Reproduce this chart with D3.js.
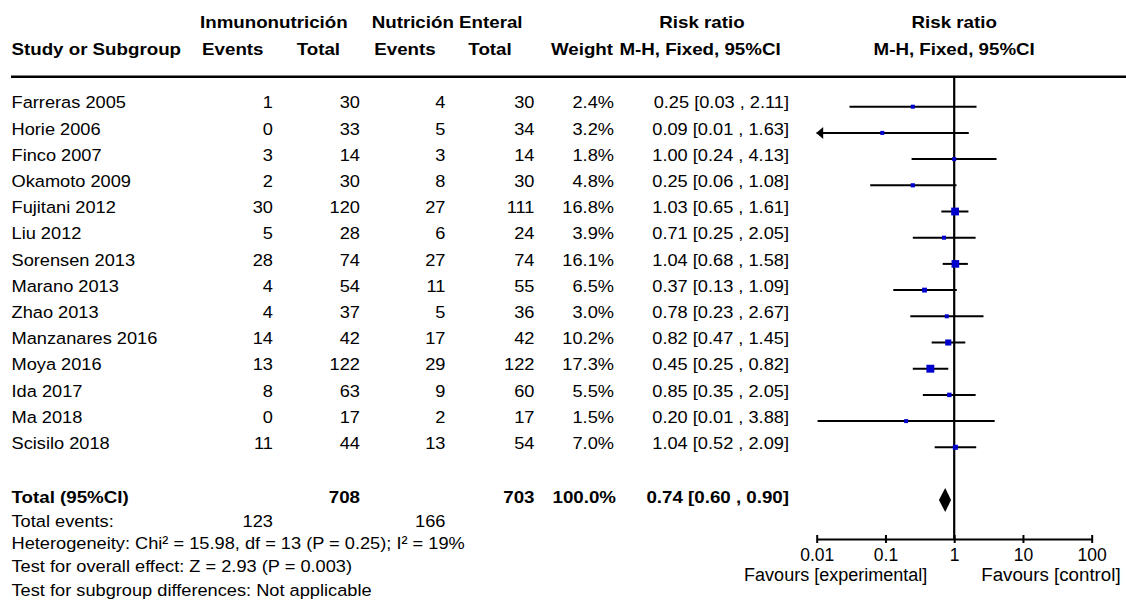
<!DOCTYPE html>
<html>
<head>
<meta charset="utf-8">
<script src="https://cdn.jsdelivr.net/npm/d3@7"></script>
<style>
  html, body { margin: 0; padding: 0; background: #ffffff; }
  svg { display: block; }
  text { font-family: "Liberation Sans", Arial, sans-serif; fill: #000; }
</style>
</head>
<body>
<svg id="chart" width="1126" height="610"></svg>
<script>
// ---------- DATA ----------
const studies = ["Farreras 2005","Horie 2006","Finco 2007","Okamoto 2009","Fujitani 2012","Liu 2012",
  "Sorensen 2013","Marano 2013","Zhao 2013","Manzanares 2016","Moya 2016","Ida 2017","Ma 2018","Scisilo 2018"];
const immEvents = [1,0,3,2,30,5,28,4,4,14,13,8,0,11];
const immTotal  = [30,33,14,30,120,28,74,54,37,42,122,63,17,44];
const enEvents  = [4,5,3,8,27,6,27,11,5,17,29,9,2,13];
const enTotal   = [30,34,14,30,111,24,74,55,36,42,122,60,17,54];
const weights   = [2.4,3.2,1.8,4.8,16.8,3.9,16.1,6.5,3.0,10.2,17.3,5.5,1.5,7.0];
const rr        = [0.25,0.09,1.00,0.25,1.03,0.71,1.04,0.37,0.78,0.82,0.45,0.85,0.20,1.04];
const ciLow     = [0.03,0.0054,0.24,0.06,0.65,0.25,0.68,0.13,0.23,0.47,0.25,0.35,0.0103,0.52];
const ciHigh    = [2.11,1.63,4.13,1.08,1.61,2.05,1.58,1.09,2.67,1.45,0.82,2.05,3.88,2.09];

const totalImm = 708, totalEn = 703, totalWeight = "100.0%";
const pooled = {rr: 0.74, lo: 0.60, hi: 0.90};
const totalEventsImm = 123, totalEventsEn = 166;
const footerLines = [
  "Heterogeneity: Chi\u00b2 = 15.98, df = 13 (P = 0.25); I\u00b2 = 19%",
  "Test for overall effect: Z = 2.93 (P = 0.003)",
  "Test for subgroup differences: Not applicable"
];
const tickValues = [0.01, 0.1, 1, 10, 100];
const tickLabels = ["0.01", "0.1", "1", "10", "100"];
const favoursLeft = "Favours [experimental]", favoursRight = "Favours [control]";

// ---------- LAYOUT ----------
const svg = d3.select("#chart");
const FS = 16.8, SX = 1.085, SXB = 1.115;
const firstRow = 106.7, rowStep = 26.2;
const rowY = i => firstRow + i * rowStep;

function txt(x, y, s, opts = {}) {
  return svg.append("text")
    .attr("transform", `translate(${x},${y}) scale(${opts.bold ? SXB : SX},1)`)
    .attr("text-anchor", opts.anchor || "start")
    .attr("font-size", FS)
    .attr("font-weight", opts.bold ? "bold" : "normal")
    .text(s);
}

const col = { study: 11.5, immEv: 273, immTot: 360, enEv: 445.5, enTot: 534.5, weight: 614, ci: 789 };

// Headers
const h1 = 28.3, h2 = 55;
txt(200, h1, "Inmunonutrición", {bold: true});
txt(371.7, h1, "Nutrición Enteral", {bold: true});
txt(702, h1, "Risk ratio", {bold: true, anchor: "middle"});
txt(col.study, h2, "Study or Subgroup", {bold: true});
txt(263.5, h2, "Events", {bold: true, anchor: "end"});
txt(340, h2, "Total", {bold: true, anchor: "end"});
txt(435.7, h2, "Events", {bold: true, anchor: "end"});
txt(511.7, h2, "Total", {bold: true, anchor: "end"});
txt(613, h2, "Weight", {bold: true, anchor: "end"});
txt(700, h2, "M-H, Fixed, 95%CI", {bold: true, anchor: "middle"});

// Plot scale
const x = d3.scaleLog().domain([0.01, 100]).range([816.7, 1091.7]);
const x1 = x(1);
txt(x1, h1, "Risk ratio", {bold: true, anchor: "middle"});
txt(x1, h2, "M-H, Fixed, 95%CI", {bold: true, anchor: "middle"});

// header rule
svg.append("line").attr("x1", 11).attr("x2", 1126).attr("y1", 76.7).attr("y2", 76.7)
  .attr("stroke", "#000").attr("stroke-width", 2.5);

// Study rows text
studies.forEach((s, i) => {
  const b = rowY(i) + 1.6;
  txt(col.study, b, s);
  txt(col.immEv, b, immEvents[i], {anchor: "end"});
  txt(col.immTot, b, immTotal[i], {anchor: "end"});
  txt(col.enEv, b, enEvents[i], {anchor: "end"});
  txt(col.enTot, b, enTotal[i], {anchor: "end"});
  txt(col.weight, b, weights[i].toFixed(1) + "%", {anchor: "end"});
  txt(col.ci, b, `${rr[i].toFixed(2)} [${ciLow[i].toFixed(2)} , ${ciHigh[i].toFixed(2)}]`, {anchor: "end"});
});

// Total row
const totB = 502.5;
txt(col.study, totB, "Total (95%CI)", {bold: true});
txt(col.immTot, totB, totalImm, {bold: true, anchor: "end"});
txt(col.enTot, totB, totalEn, {bold: true, anchor: "end"});
txt(col.weight + 2, totB, totalWeight, {bold: true, anchor: "end"});
txt(col.ci, totB, `${pooled.rr.toFixed(2)} [${pooled.lo.toFixed(2)} , ${pooled.hi.toFixed(2)}]`, {bold: true, anchor: "end"});

const evB = 526.7;
txt(col.study, evB, "Total events:");
txt(col.immEv, evB, totalEventsImm, {anchor: "end"});
txt(col.enEv, evB, totalEventsEn, {anchor: "end"});
footerLines.forEach((s, k) => txt(col.study, 549.2 + k * 23.2, s));

// ---------- PLOT ----------
const axisY = 539;
svg.append("line").attr("x1", x1).attr("x2", x1).attr("y1", 77.5).attr("y2", axisY)
  .attr("stroke", "#000").attr("stroke-width", 2.2);

const g = svg.append("g");
studies.forEach((s, i) => {
  const y = rowY(i);
  const lo = Math.max(ciLow[i], 0.01), hi = Math.min(ciHigh[i], 100);
  g.append("line").attr("x1", x(lo)).attr("x2", x(hi)).attr("y1", y).attr("y2", y)
    .attr("stroke", "#000").attr("stroke-width", 2);
  if (ciLow[i] < 0.01) {
    const tip = x(0.01) - 0.5;
    g.append("path").attr("d", `M${tip},${y} L${tip + 7},${y - 6} L${tip + 7},${y + 6} Z`).attr("fill", "#000");
  }
  const side = Math.max(4, 1.9 * Math.sqrt(weights[i]));
  g.append("rect").attr("x", x(rr[i]) - side / 2).attr("y", y - side / 2)
    .attr("width", side).attr("height", side).attr("fill", "#0000cc");
});

// pooled diamond
const dy = 500;
g.append("path")
  .attr("d", `M${x(pooled.lo)},${dy} L${x(pooled.rr)},${dy - 12} L${x(pooled.hi)},${dy} L${x(pooled.rr)},${dy + 12} Z`)
  .attr("fill", "#000");

// axis
const axis = d3.axisBottom(x).tickValues(tickValues)
  .tickFormat((d, i) => tickLabels[i]).tickSizeInner(4).tickSizeOuter(0);
const ag = svg.append("g").attr("transform", `translate(0,${axisY})`).call(axis);
ag.select(".domain").attr("stroke", "#000").attr("stroke-width", 2);
ag.selectAll(".tick line").attr("y1", -4).attr("y2", 4).attr("stroke", "#000").attr("stroke-width", 2);
ag.selectAll(".tick text").attr("y", 21.5).attr("dy", 0)
  .attr("font-family", "Liberation Sans, Arial, sans-serif").attr("font-size", 17.5).attr("fill", "#000");

svg.append("text").attr("x", x1 - 27).attr("y", 581).attr("text-anchor", "end")
  .attr("font-size", 18).text(favoursLeft);
svg.append("text").attr("x", x1 + 27).attr("y", 581).attr("text-anchor", "start")
  .attr("font-size", 18).attr("transform", `translate(${x1 + 27},0) scale(1.04,1) translate(${-(x1 + 27)},0)`)
  .text(favoursRight);
</script>
</body>
</html>
